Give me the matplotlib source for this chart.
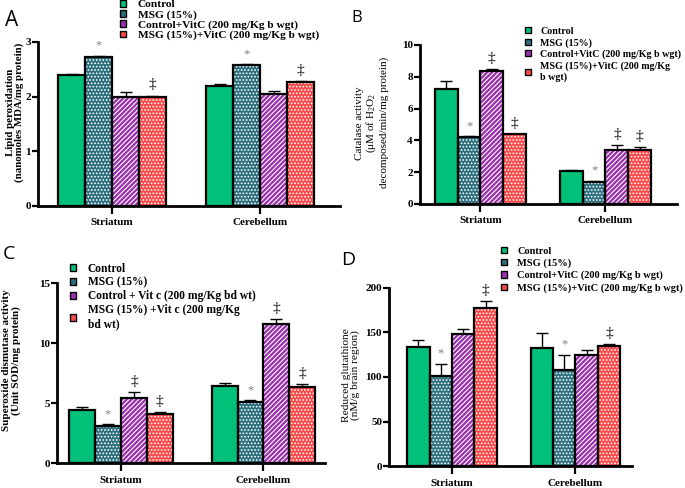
import numpy as np
import matplotlib.pyplot as plt
from matplotlib.patches import Patch

plt.rcParams['font.family'] = ['Liberation Serif', 'DejaVu Serif']
plt.rcParams['font.weight'] = 'bold'
plt.rcParams['mathtext.fontset'] = 'custom'
plt.rcParams['mathtext.rm'] = 'Liberation Serif'
plt.rcParams['hatch.linewidth'] = 0.8

regions = ['Striatum', 'Cerebellum']
colors = ['#00C07A', '#2B6E7D', '#9B2FAE', '#FF4848']
hatches = [None, '.....', '///////', '.....']

# A: lipid peroxidation
lpo_str = [2.40, 2.72, 2.00, 2.00]
lpo_str_err = [0.02, 0.03, 0.09, 0.02]
lpo_cer = [2.20, 2.57, 2.04, 2.27]
lpo_cer_err = [0.04, 0.02, 0.06, 0.01]
lpo_sig_str = ['', '*', '', '\u2021']
lpo_sig_cer = ['', '*', '', '\u2021']

# B: catalase
cat_str = [7.2, 4.2, 8.35, 4.4]
cat_str_err = [0.55, 0.05, 0.15, 0.02]
cat_cer = [2.1, 1.4, 3.4, 3.4]
cat_cer_err = [0.03, 0.05, 0.3, 0.2]
cat_sig_str = ['', '*', '\u2021', '\u2021']
cat_sig_cer = ['', '*', '\u2021', '\u2021']

# C: SOD
sod_str = [4.4, 3.05, 5.45, 4.05]
sod_str_err = [0.25, 0.2, 0.45, 0.2]
sod_cer = [6.4, 5.1, 11.55, 6.35]
sod_cer_err = [0.3, 0.15, 0.45, 0.25]
sod_sig_str = ['', '*', '\u2021', '\u2021']
sod_sig_cer = ['', '*', '\u2021', '\u2021']

# D: GSH
gsh_str = [134, 101, 148, 177]
gsh_str_err = [8, 14, 6, 8]
gsh_cer = [132, 108, 125, 135]
gsh_cer_err = [17, 17, 5, 2]
gsh_sig_str = ['', '*', '', '\u2021']
gsh_sig_cer = ['', '*', '', '\u2021']

labels_ad = ['Control', 'MSG (15%)', 'Control+VitC (200 mg/Kg b wgt)',
             'MSG (15%)+VitC (200 mg/Kg b wgt)']
labels_b = ['Control', 'MSG (15%)', 'Control+VitC (200 mg/Kg b wgt)',
            'MSG (15%)+VitC (200 mg/Kg\nb wgt)']
labels_c = ['Control', 'MSG (15%)', 'Control + Vit c (200 mg/Kg bd wt)',
            'MSG (15%) +Vit c (200 mg/Kg\nbd wt)']

W = 0.182


def panel(ax, vals, errs, sigs, ylim, yticks, xlim):
    for g in range(2):
        for i in range(4):
            x = g + (i - 1.5) * W
            ax.bar(x, vals[g][i], W, color=colors[i], edgecolor='white',
                   hatch=hatches[i], linewidth=0, zorder=2)
            ax.bar(x, vals[g][i], W, fill=False, edgecolor='black',
                   linewidth=1.6, zorder=3)
            ax.errorbar(x, vals[g][i], yerr=[[0], [errs[g][i]]], color='black',
                        capsize=4.5, elinewidth=1, capthick=1, zorder=1)
            s = sigs[g][i]
            if s:
                ax.annotate(s, (x, vals[g][i] + errs[g][i]), xytext=(0, 3),
                            textcoords='offset points', ha='center', va='bottom',
                            fontsize=9 if s == '*' else 11,
                            color='#808080' if s == '*' else 'black',
                            fontweight='normal')
    ax.set_xlim(*xlim)
    ax.set_ylim(*ylim)
    ax.set_yticks(yticks)
    ax.set_xticks([0, 1])
    ax.set_xticklabels(regions)
    for sp in ['top', 'right']:
        ax.spines[sp].set_visible(False)
    for sp in ['left', 'bottom']:
        ax.spines[sp].set_linewidth(2)
    ax.tick_params(axis='y', length=4, width=1.6, labelsize=8, pad=1)
    ax.tick_params(axis='x', length=6, width=1.6, labelsize=8, pad=3)


def add_legend(ax, labels, x, y, fs, sp):
    handles = [Patch(facecolor=c, edgecolor='black', linewidth=1) for c in colors]
    ax.legend(handles, labels, loc='upper left', bbox_to_anchor=(x, y),
              bbox_transform=ax.figure.transFigure, frameon=False,
              handlelength=0.55, handleheight=0.55, handletextpad=1.0,
              labelspacing=sp, borderpad=0, borderaxespad=0,
              prop={'size': fs, 'weight': 'bold'})


fig = plt.figure(figsize=(6.85, 4.88), dpi=100)

axA = fig.add_axes([0.0555, 0.578, 0.441, 0.336])
panel(axA, [lpo_str, lpo_cer], [lpo_str_err, lpo_cer_err],
      [lpo_sig_str, lpo_sig_cer], (0, 3), [0, 1, 2, 3], (-0.5, 1.54))
axA.set_ylabel('Lipid peroxidation\n(nanomoles MDA/mg protein)', fontsize=7.8,
               fontweight='bold', va='center', linespacing=1.0)
axA.yaxis.set_label_coords(-0.076, 0.57)
add_legend(axA, labels_ad, 120 / 685, 1.0, 8.2, 0.05)

axB = fig.add_axes([0.613, 0.582, 0.375, 0.326])
panel(axB, [cat_str, cat_cer], [cat_str_err, cat_cer_err],
      [cat_sig_str, cat_sig_cer], (0, 10), [0, 2, 4, 6, 8, 10], (-0.484, 1.57))
axB.set_ylabel('Catalase activity\n(\u03bcM of H$_\\mathregular{2}$O$_\\mathregular{2}$\n'
               'decomposed/min/mg protein)', fontsize=8, fontweight='normal',
               va='center', linespacing=1.1)
axB.yaxis.set_label_coords(-0.187, 0.51)
add_legend(axB, labels_b, 525 / 685, 1 - 27 / 488, 7.2, 0.2)

axC = fig.add_axes([0.083, 0.051, 0.391, 0.369])
panel(axC, [sod_str, sod_cer], [sod_str_err, sod_cer_err],
      [sod_sig_str, sod_sig_cer], (0, 15), [0, 5, 10, 15], (-0.45, 1.43))
axC.set_ylabel('Superoxide dismutase activity\n(Unit SOD/mg protein)', fontsize=8,
               fontweight='bold', va='center', linespacing=1.0)
axC.yaxis.set_label_coords(-0.17, 0.57)
add_legend(axC, labels_c, 70 / 685, 1 - 263 / 488, 8.3, 0.15)

axD = fig.add_axes([0.568, 0.045, 0.355, 0.365])
panel(axD, [gsh_str, gsh_cer], [gsh_str_err, gsh_cer_err],
      [gsh_sig_str, gsh_sig_cer], (0, 200), [0, 50, 100, 150, 200], (-0.51, 1.46))
axD.set_ylabel('Reduced glutathione\n(nM/g brain region)', fontsize=8.2,
               fontweight='normal', va='center', linespacing=1.0)
axD.yaxis.set_label_coords(-0.156, 0.51)
add_legend(axD, labels_ad, 501 / 685, 1 - 247 / 488, 7.5, 0.25)

for lab, x, y, fs in [('A', 5, 20, 15), ('B', 351, 18, 12), ('C', 3, 254, 14), ('D', 341, 260, 14)]:
    fig.text(x / 685, 1 - y / 488, lab, fontsize=fs, fontweight='normal',
             family='Open Sans', va='center', ha='left')

fig.savefig('out.png', dpi=100)
